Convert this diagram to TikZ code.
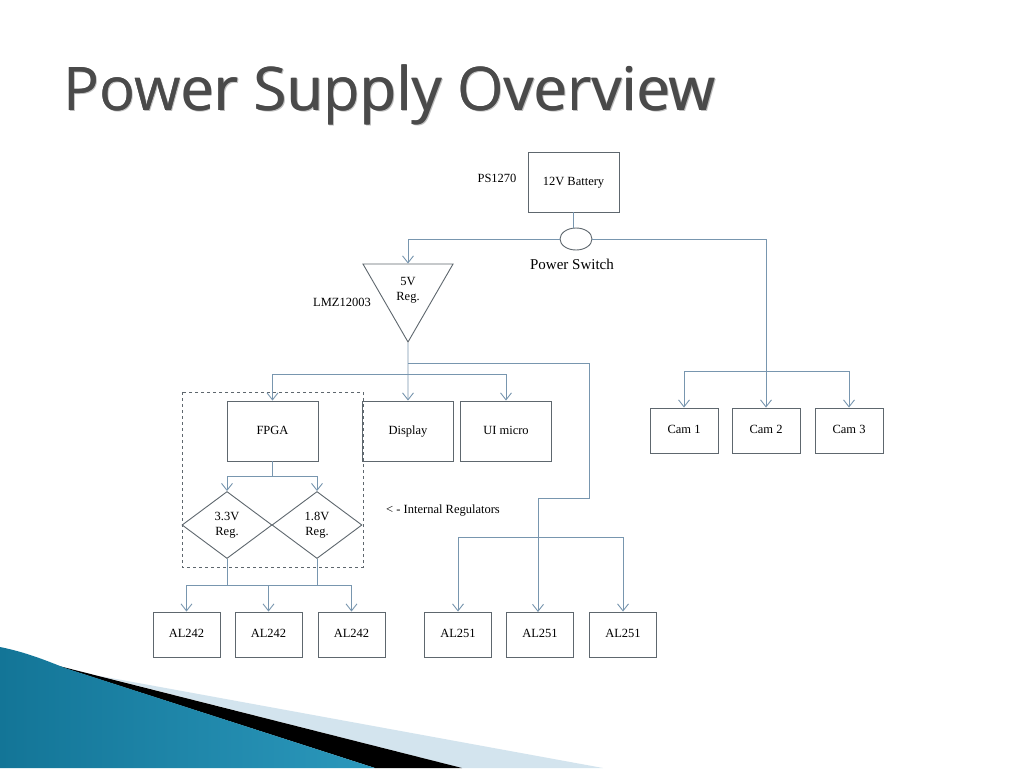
\documentclass[tikz,border=0pt]{standalone}
\usepackage{fontspec}
\usepackage{graphicx}
\usepackage{tikz}
\usepackage{xcolor}
\usetikzlibrary{shapes.geometric,arrows.meta}
\setmainfont{Liberation Serif}
\newfontfamily\titlefont{Open Sans}
\definecolor{boxline}{HTML}{5E676E}
\definecolor{wireline}{HTML}{7896AF}
\definecolor{titlegrey}{HTML}{4A4A4A}
\definecolor{tealdark}{HTML}{137597}
\definecolor{teallight}{HTML}{6ACAEA}
\definecolor{tealmid}{HTML}{2B98BC}
\definecolor{palewedge}{HTML}{D3E4EE}
\tikzset{
    part-box/.style = {draw=boxline, line width=0.9pt, rectangle, inner sep=0pt, minimum width=91pt, minimum height=60pt, text height=9pt, text depth=3pt, font=\fontsize{12.5}{15}\selectfont},
    small-box/.style = {part-box, minimum width=67pt, minimum height=45pt},
    reg-tri/.style = {draw=boxline, line width=0.9pt, regular polygon, regular polygon sides=3, shape border rotate=180, minimum size=104pt, inner sep=0pt, align=center, font=\fontsize{12.5}{15}\selectfont},
    reg-dia/.style = {draw=boxline, line width=0.9pt, diamond, minimum width=90pt, minimum height=67pt, inner sep=0pt, align=center, font=\fontsize{12.5}{15}\selectfont},
    wire-line/.style = {draw=wireline, line width=0.9pt},
    wire-arrow/.style = {wire-line, -{Straight Barb[length=7pt,width=11pt]}},
    side-note/.style = {font=\fontsize{12.5}{15}\selectfont, inner sep=0pt},
    title-text/.style = {anchor=base west, inner sep=0pt},
}
\newcommand{\slidetitle}{\resizebox{652pt}{45.7pt}{\titlefont\fontsize{45}{45}\selectfont Power Supply Overview}}

\begin{document}
\begin{tikzpicture}[x=1pt,y=-1pt]
\useasboundingbox (0,0) rectangle (1024,768);
\fill[white] (0,0) rectangle (1024,768);

% corner decoration
\fill[palewedge] (100,676) -- (603,768) -- (462,768) -- cycle;
\fill[black] (55,665) -- (462,768) -- (375,768) -- cycle;
\shade[left color=tealdark, middle color=teallight, right color=tealmid]
    (0,647) .. controls (25,652) and (45,660) .. (65,668) -- (375,768) -- (0,768) -- cycle;

% title
\node[title-text, text=black!25] (titleshadow) at (64.5,111.5) {\slidetitle};
\node[title-text, text=titlegrey] (titleback) at (63.6,110) {\slidetitle};
\node[title-text, text=titlegrey] (title) at (63,110) {\slidetitle};

% supply side
\node[part-box] (battery) at (573.5,182) {12V Battery};
\node[side-note] (batlabel) at (497,178) {PS1270};
\node[draw=boxline, line width=0.9pt, ellipse, minimum width=32pt, minimum height=22pt, inner sep=0pt] (switch) at (576,239) {};
\node[side-note, font=\fontsize{15}{18}\selectfont] (swlabel) at (572,264) {Power Switch};
\node[reg-tri] (vreg) at (408,290) {5V\\Reg.};
\node[side-note] (reglabel) at (342,302) {LMZ12003};

% loads
\node[part-box] (fpga) at (272.5,431) {FPGA};
\node[part-box] (display) at (408,431) {Display};
\node[part-box] (uimicro) at (506,431) {UI micro};
\node[reg-dia] (reg33) at (227,525) {3.3V\\Reg.};
\node[reg-dia] (reg18) at (317,525) {1.8V\\Reg.};
\node[side-note] (intlabel) at (443,511) {< - Internal Regulators};
\draw[boxline, line width=0.9pt, dashed] (182,392) rectangle (363,567);

\node[small-box] (ala) at (186.5,634.5) {AL242};
\node[small-box] (alb) at (268.5,634.5) {AL242};
\node[small-box] (alc) at (351.5,634.5) {AL242};
\node[small-box] (ald) at (458,634.5) {AL251};
\node[small-box] (ale) at (540,634.5) {AL251};
\node[small-box] (alf) at (623,634.5) {AL251};

\node[small-box, minimum width=68pt] (cam1) at (684,430.5) {Cam 1};
\node[small-box, minimum width=68pt] (cam2) at (766,430.5) {Cam 2};
\node[small-box, minimum width=68pt] (cam3) at (849,430.5) {Cam 3};

% junction points
\coordinate (tapright) at (408,363);
\coordinate (busfive) at (408,374);
\coordinate (bendright) at (589,498);
\coordinate (busal251) at (538,537);
\coordinate (buscam) at (766,371);
\coordinate (busfpga) at (272.5,476);
\coordinate (busal242) at (268.5,585);

% wiring
\draw[wire-line] (battery.south) -- (battery.south |- switch.north);
\draw[wire-arrow] (switch.west) -| (vreg.north);
\draw[wire-arrow] (switch.east) -| (cam2.north);
\draw[wire-arrow] (buscam) -| (cam1.north);
\draw[wire-arrow] (buscam) -| (cam3.north);

\draw[wire-arrow] (vreg.south) -- (display.north);
\draw[wire-arrow] (busfive) -| (fpga.north);
\draw[wire-arrow] (busfive) -| (uimicro.north);
\draw[wire-arrow] (tapright) -| (bendright) -| (538,612);
\draw[wire-arrow] (busal251) -| (ald.north);
\draw[wire-arrow] (busal251) -| (alf.north);

\draw[wire-line] (fpga.south) -- (busfpga);
\draw[wire-arrow] (busfpga) -| (reg33.north);
\draw[wire-arrow] (busfpga) -| (reg18.north);
\draw[wire-line] (reg33.south) -- (reg33.south |- busal242);
\draw[wire-line] (reg18.south) -- (reg18.south |- busal242);
\draw[wire-arrow] (busal242) -| (ala.north);
\draw[wire-arrow] (busal242) -- (alb.north);
\draw[wire-arrow] (busal242) -| (alc.north);
\end{tikzpicture}
\end{document}
